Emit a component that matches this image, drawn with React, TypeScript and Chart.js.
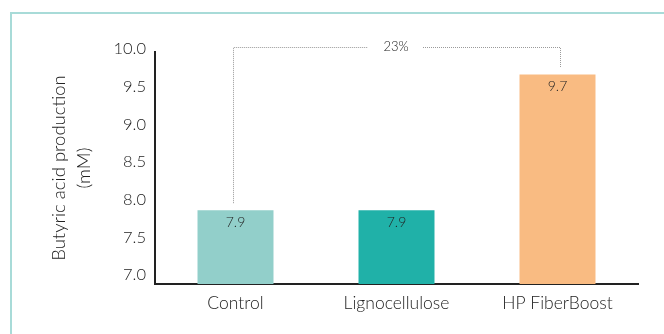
import React, { useEffect, useRef } from "react";
import { Chart, registerables } from "chart.js";

Chart.register(...registerables);

const categories = ["Control", "Lignocellulose", "HP FiberBoost"];
const values = [7.9, 7.9, 9.7];
const valueLabels = ["7.9", "7.9", "9.7"];
const barColors = ["#92cfca", "#20b1a8", "#f9bb82"];
const yTicks = [7.0, 7.5, 8.0, 8.5, 9.0, 9.5, 10.0];
const yTitle = ["Butyric acid production", "(mM)"];
const bracketText = "23%";
const bracketFrom = 0;
const bracketTo = 2;

const FONT = "Lato, 'Open Sans', sans-serif";
const TEXT = "#222";

const overlayPlugin = {
  id: "overlay",
  afterDatasetsDraw(chart: any) {
    const ctx = chart.ctx;
    const meta = chart.getDatasetMeta(0);
    ctx.save();
    ctx.fillStyle = TEXT;
    ctx.font = `300 14px ${FONT}`;
    ctx.textAlign = "center";
    ctx.textBaseline = "middle";
    meta.data.forEach((bar: any, i: number) => {
      ctx.fillText(valueLabels[i], bar.x, bar.y + 12);
    });
    const a = meta.data[bracketFrom];
    const b = meta.data[bracketTo];
    const topY = chart.chartArea.top - 5;
    const x1 = Math.round(a.x) - 2.5;
    const x2 = Math.round(b.x) + 2.5;
    const midX = (x1 + x2) / 2;
    ctx.strokeStyle = "#9a9a9a";
    ctx.lineWidth = 1;
    ctx.setLineDash([1, 1]);
    ctx.beginPath();
    ctx.moveTo(x1, a.y - 7);
    ctx.lineTo(x1, topY + 0.5);
    ctx.lineTo(midX - 29, topY + 0.5);
    ctx.moveTo(midX + 26, topY + 0.5);
    ctx.lineTo(x2, topY + 0.5);
    ctx.lineTo(x2, b.y - 7);
    ctx.stroke();
    ctx.setLineDash([]);
    ctx.font = `300 13px ${FONT}`;
    ctx.fillStyle = TEXT;
    ctx.fillText(bracketText, midX - 1, topY);
    ctx.restore();
  },
};

export default function App() {
  const ref = useRef<HTMLCanvasElement>(null);
  useEffect(() => {
    document.body.style.margin = "0";
    document.body.style.overflow = "hidden";
    const chart = new Chart(ref.current!, {
      type: "bar",
      data: {
        labels: categories,
        datasets: [
          {
            data: values,
            backgroundColor: barColors,
            barPercentage: 0.472,
            categoryPercentage: 1,
          },
        ],
      },
      options: {
        responsive: false,
        animation: false,
        layout: { padding: { top: 52, right: 26, left: 0, bottom: 0 } },
        plugins: {
          legend: { display: false },
          tooltip: { enabled: false },
        },
        scales: {
          x: {
            offset: true,
            grid: { display: false, drawTicks: false },
            border: { display: true, color: "#222", width: 2 },
            ticks: {
              color: TEXT,
              font: { family: FONT, size: 17.5, weight: "300" },
              padding: 9,
            },
            afterFit: (s: any) => {
              s.height = 50;
            },
          },
          y: {
            min: 6.92,
            max: 10,
            grid: { display: false, drawTicks: false },
            border: { display: true, color: "#222", width: 2 },
            afterBuildTicks: (s: any) => {
              s.ticks = yTicks.map((v) => ({ value: v }));
            },
            ticks: {
              color: TEXT,
              font: { family: FONT, size: 16.5, weight: "300" },
              padding: 9,
              labelOffset: -3,
              callback: (v: any) => Number(v).toFixed(1),
            },
            title: {
              display: true,
              text: yTitle,
              color: TEXT,
              font: { family: FONT, size: 18.5, lineHeight: 1.32, weight: "300" },
              padding: { top: 47, bottom: 0 },
            },
            afterFit: (s: any) => {
              s.width = 155;
            },
          },
        },
      },
      plugins: [overlayPlugin],
    });
    return () => chart.destroy();
  }, []);
  return (
    <div
      style={{
        position: "absolute",
        left: 0,
        top: 0,
        width: 664,
        height: 334,
        overflow: "hidden",
        background: "#fff",
      }}
    >
      <div
        style={{
          position: "absolute",
          left: 10,
          top: 12,
          width: 700,
          height: 400,
          border: "2px solid #a8dbd8",
        }}
      />
      <canvas
        ref={ref}
        width={664}
        height={334}
        style={{ position: "absolute", left: 0, top: 0 }}
      />
    </div>
  );
}
